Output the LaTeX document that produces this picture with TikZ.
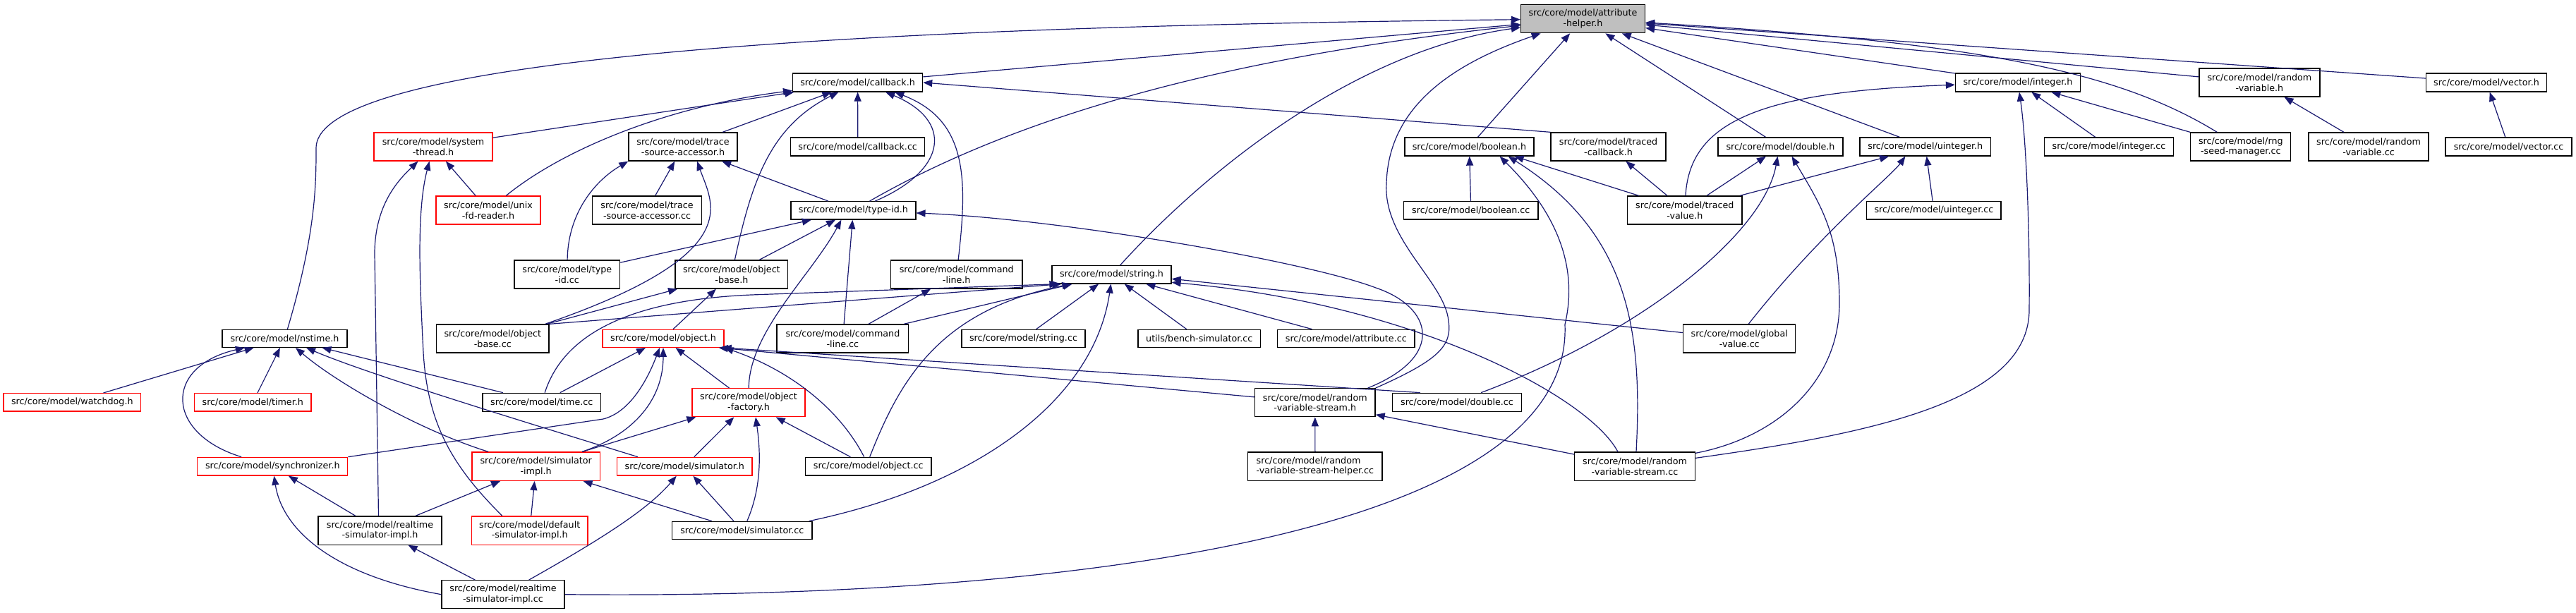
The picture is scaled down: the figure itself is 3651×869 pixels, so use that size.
\documentclass[tikz,border=0pt]{standalone}
\usepackage{fontspec}
\setmainfont{DejaVu Sans}
\usetikzlibrary{arrows.meta}
\definecolor{edgecol}{HTML}{191970}
\definecolor{redcol}{HTML}{FF0000}
\definecolor{graycol}{HTML}{BFBFBF}
\begin{document}
\begin{tikzpicture}[x=1pt,y=-1pt,
  box/.style={draw=black,line width=1.3pt,fill=white,inner sep=0pt,align=center,font=\fontsize{12.7}{14.6}\selectfont},
  redbox/.style={box,draw=redcol},
  graybox/.style={box,fill=graycol},
  edge/.style={draw=edgecol,line width=1.2pt,-{Triangle[length=13pt,width=10pt]}}]
\useasboundingbox (0,0) rectangle (3651,869);
\fill[white] (0,0) rectangle (3651,869);
% row 1
\node[graybox,minimum width=176pt,minimum height=40pt] (AH) at (2243.5,26.7) {src/core/model/attribute\\-helper.h};
% row 2
\node[box,minimum width=184pt,minimum height=26pt] (cbh) at (1215.6,117) {src/core/model/callback.h};
\node[box,minimum width=177pt,minimum height=26pt] (inth) at (2860,117) {src/core/model/integer.h};
\node[box,minimum width=171pt,minimum height=40pt] (rvh) at (3202.4,117) {src/core/model/random\\-variable.h};
\node[box,minimum width=171pt,minimum height=26pt] (vech) at (3524,117) {src/core/model/vector.h};
% row 3
\node[redbox,minimum width=168pt,minimum height=40pt] (stth) at (614,208) {src/core/model/system\\-thread.h};
\node[box,minimum width=154pt,minimum height=40pt] (TSAh) at (968,208) {src/core/model/trace\\-source-accessor.h};
\node[box,minimum width=190pt,minimum height=26pt] (cbcc) at (1215.7,208) {src/core/model/callback.cc};
\node[box,minimum width=183pt,minimum height=26pt] (boolh) at (2082.4,208) {src/core/model/boolean.h};
\node[box,minimum width=163pt,minimum height=40pt] (tch) at (2279.5,208) {src/core/model/traced\\-callback.h};
\node[box,minimum width=177pt,minimum height=26pt] (dh) at (2523.5,208) {src/core/model/double.h};
\node[box,minimum width=185.5pt,minimum height=26pt] (uinth) at (2728.8,208) {src/core/model/uinteger.h};
\node[box,minimum width=183pt,minimum height=26pt] (intcc) at (2989,208) {src/core/model/integer.cc};
\node[box,minimum width=142pt,minimum height=40pt] (rng) at (3175.8,208) {src/core/model/rng\\-seed-manager.cc};
\node[box,minimum width=170pt,minimum height=40pt] (rvcc) at (3357,208) {src/core/model/random\\-variable.cc};
\node[box,minimum width=179pt,minimum height=26pt] (veccc) at (3555.5,208) {src/core/model/vector.cc};
% row 4
\node[redbox,minimum width=148pt,minimum height=40pt] (unix) at (692,298) {src/core/model/unix\\-fd-reader.h};
\node[box,minimum width=154.5pt,minimum height=40pt] (TSAcc) at (917,298) {src/core/model/trace\\-source-accessor.cc};
\node[box,minimum width=177pt,minimum height=25.3pt] (tidh) at (1209.4,298.4) {src/core/model/type-id.h};
\node[box,minimum width=190.4pt,minimum height=25.3pt] (boolcc) at (2084.8,298.4) {src/core/model/boolean.cc};
\node[box,minimum width=162.5pt,minimum height=40pt] (tvh) at (2387.8,298) {src/core/model/traced\\-value.h};
\node[box,minimum width=190.3pt,minimum height=25.3pt] (uintcc) at (2740.9,298.4) {src/core/model/uinteger.cc};
% row 5
\node[box,minimum width=149.5pt,minimum height=40pt] (tidcc) at (803.8,389) {src/core/model/type\\-id.cc};
\node[box,minimum width=159.7pt,minimum height=40pt] (objbh) at (1036.9,389) {src/core/model/object\\-base.h};
\node[box,minimum width=186.6pt,minimum height=40pt] (clh) at (1355.7,389) {src/core/model/command\\-line.h};
\node[box,minimum width=169pt,minimum height=25.3pt] (strh) at (1575.5,389.3) {src/core/model/string.h};
% row 6
\node[box,minimum width=177pt,minimum height=25pt] (nstime) at (403.5,479.8) {src/core/model/nstime.h};
\node[box,minimum width=159.5pt,minimum height=40pt] (objbcc) at (698.3,480) {src/core/model/object\\-base.cc};
\node[redbox,minimum width=172pt,minimum height=25pt] (objh) at (940,479.8) {src/core/model/object.h};
\node[box,minimum width=186.7pt,minimum height=40pt] (clcc) at (1194.4,480) {src/core/model/command\\-line.cc};
\node[box,minimum width=175pt,minimum height=25pt] (strcc) at (1450.5,479.8) {src/core/model/string.cc};
\node[box,minimum width=173.5pt,minimum height=25pt] (bench) at (1699.8,479.8) {utils/bench-simulator.cc};
\node[box,minimum width=194.4pt,minimum height=25pt] (attrcc) at (1907.8,479.8) {src/core/model/attribute.cc};
\node[box,minimum width=159pt,minimum height=40pt] (gv) at (2465.2,480) {src/core/model/global\\-value.cc};
% row 7
\node[redbox,minimum width=194.5pt,minimum height=25.3pt] (wd) at (102.3,570.3) {src/core/model/watchdog.h};
\node[redbox,minimum width=165.5pt,minimum height=25.3pt] (timer) at (358.3,570.3) {src/core/model/timer.h};
\node[box,minimum width=167.5pt,minimum height=26pt] (timecc) at (767.8,570.3) {src/core/model/time.cc};
\node[redbox,minimum width=160pt,minimum height=40pt] (objfac) at (1061,570.7) {src/core/model/object\\-factory.h};
\node[box,minimum width=170.5pt,minimum height=40pt] (RVSh) at (1863.8,570.7) {src/core/model/random\\-variable-stream.h};
\node[box,minimum width=183pt,minimum height=26pt] (dcc) at (2065,570.3) {src/core/model/double.cc};
% row 8
\node[redbox,minimum width=213pt,minimum height=25.7pt] (synch) at (386.3,661.2) {src/core/model/synchronizer.h};
\node[redbox,minimum width=181.4pt,minimum height=40.3pt] (SIh) at (759.7,661.2) {src/core/model/simulator\\-impl.h};
\node[redbox,minimum width=191.5pt,minimum height=25.7pt] (simh) at (970.3,661.2) {src/core/model/simulator.h};
\node[box,minimum width=178.7pt,minimum height=25.7pt] (objcc) at (1230.7,661.2) {src/core/model/object.cc};
\node[box,align=left,minimum width=190.3pt,minimum height=40.3pt] (RVShelp) at (1863.9,661) {src/core/model/random\\-variable-stream-helper.cc};
\node[box,minimum width=170.5pt,minimum height=40.3pt] (RVScc) at (2317,661.2) {src/core/model/random\\-variable-stream.cc};
% row 9
\node[box,minimum width=175pt,minimum height=40.3pt] (RSIh) at (538.5,752) {src/core/model/realtime\\-simulator-impl.h};
\node[redbox,minimum width=164.6pt,minimum height=40.3pt] (DSIh) at (750.7,752) {src/core/model/default\\-simulator-impl.h};
\node[box,minimum width=198.4pt,minimum height=25.4pt] (simcc) at (1051.8,752) {src/core/model/simulator.cc};
% row 10
\node[box,minimum width=174pt,minimum height=40pt] (RSIcc) at (713,842.7) {src/core/model/realtime\\-simulator-impl.cc};

% ---- edges into attribute-helper.h
\draw[edge] (nstime) .. controls (448,330) and (448,260) .. (448,210) .. controls (448,60) and (1500,35) .. (AH);
\draw[edge] (cbh) -- (AH);
\draw[edge] (tidh) .. controls (1450,160) and (1750,80) .. (AH);
\draw[edge] (strh) .. controls (1720,230) and (1930,70) .. (AH);
\draw[edge] (RVSh.north east) .. controls (2040,510) and (2058,490) .. (2053,455) .. controls (2048,400) and (1960,340) .. (1965,260) .. controls (1968,150) and (2060,90) .. (AH);
\draw[edge] (boolh) -- (AH);
\draw[edge] (dh) -- (AH);
\draw[edge] (uinth) -- (AH);
\draw[edge] (inth) -- (AH);
\draw[edge] (rvh) -- (AH);
\draw[edge] (vech) -- (AH);
\draw[edge] (rng) .. controls (3000,100) and (2800,60) .. (AH);
% ---- callback.h
\draw[edge] (stth) -- (cbh);
\draw[edge] (unix) .. controls (800,210) and (950,150) .. (cbh);
\draw[edge] (TSAh) -- (cbh);
\draw[edge] (objbh) .. controls (1065,260) and (1090,180) .. (cbh);
\draw[edge] (cbcc) -- (cbh);
\draw[edge] (tidh) .. controls (1345,240) and (1350,170) .. ([xshift=-53pt]cbh.south east);
\draw[edge] (clh) .. controls (1372,250) and (1370,170) .. ([xshift=-40pt]cbh.south east);
\draw[edge] (tch.north west) -- (cbh.east);
% ---- system-thread.h
\draw[edge] (unix) -- (stth);
\draw[edge] ([xshift=-2pt]RSIh.north) -- (531,360) .. controls (531,290) and (565,255) .. (stth);
\draw[edge] ([xshift=44pt]DSIh.north west) .. controls (640,660) and (606,600) .. (600,500) .. controls (595,400) and (590,300) .. (stth);
% ---- nstime.h
\draw[edge] (synch) .. controls (235,615) and (230,520) .. (nstime);
\draw[edge] (wd) -- (nstime);
\draw[edge] (timer) -- (nstime);
\draw[edge] (SIh) .. controls (600,612) and (480,545) .. (nstime);
\draw[edge] ([xshift=30pt]simh.north west) .. controls (750,600) and (520,530) .. (nstime);
\draw[edge] (timecc) -- (nstime);
% ---- object.h
\draw[edge] (timecc) -- (objh);
\draw[edge] (synch.north east) -- (855,594) .. controls (890,585) and (915,545) .. (objh);
\draw[edge] ([xshift=-26pt]SIh.north east) .. controls (900,615) and (940,565) .. (objh);
\draw[edge] (objfac) -- (objh);
\draw[edge] (RVSh) -- ([xshift=-8pt]objh.south east);
\draw[edge] ([xshift=40pt]dcc.north west) -- ([xshift=-3pt]objh.south east);
\draw[edge] ([xshift=-6pt]objcc.north) .. controls (1190,580) and (1120,525) .. (objh.south east);
% ---- object-base.h
\draw[edge] (objbcc) -- (objbh);
\draw[edge] (objh) -- (objbh);
% ---- object-factory.h
\draw[edge] ([xshift=-26pt]SIh.north east) -- ([xshift=6pt]objfac.south west);
\draw[edge] (simh) -- (objfac);
\draw[edge] ([xshift=7pt]simcc.north) .. controls (1080,690) and (1078,640) .. ([xshift=10pt]objfac.south);
\draw[edge] (objcc) -- (objfac);
% ---- type-id.h
\draw[edge] (tidcc) -- (tidh);
\draw[edge] (objbh) -- (tidh);
\draw[edge] (objfac) .. controls (1062,470) and (1150,390) .. ([xshift=-17pt]tidh.south);
\draw[edge] (clcc) -- (tidh);
\draw[edge] ([xshift=-11pt]RVSh.north east) .. controls (2050,505) and (2030,435) .. (1950,408) .. controls (1850,370) and (1500,310) .. (tidh);
% ---- trace-source-accessor.h
\draw[edge] (TSAcc) -- (TSAh);
\draw[edge] (tidh) -- (TSAh);
\draw[edge] (tidcc) .. controls (805,300) and (845,255) .. (TSAh.south west);
\draw[edge] ([xshift=-6pt]objbcc.north east) .. controls (1060,360) and (1010,290) .. ([xshift=20pt]TSAh.south);
% ---- command-line.h
\draw[edge] (clcc) -- (clh);
% ---- string.h
\draw[edge] (timecc) .. controls (800,470) and (900,425) .. (1065,418) -- ([xshift=10pt]strh.south west);
\draw[edge] (objbcc.north east) -- ([xshift=14pt]strh.south west);
\draw[edge] (clcc) -- (strh);
\draw[edge] ([xshift=2pt]objcc.north) .. controls (1275,540) and (1330,440) .. ([xshift=28pt]strh.south west);
\draw[edge] ([xshift=-5pt]simcc.north east) .. controls (1380,690) and (1550,570) .. ([xshift=-1pt]strh.south);
\draw[edge] (strcc) -- (strh);
\draw[edge] (bench) -- (strh);
\draw[edge] (attrcc) -- (strh);
\draw[edge] (gv) -- ([yshift=-6pt]strh.east);
\draw[edge] ([xshift=-24pt]RVScc.north) .. controls (2250,560) and (2000,430) .. ([yshift=-11pt]strh.east);
% ---- boolean.h
\draw[edge] (boolcc) -- (boolh);
\draw[edge] (tvh) -- ([xshift=-28pt]boolh.south east);
\draw[edge] ([xshift=2pt]RVScc.north) .. controls (2328,470) and (2310,330) .. ([xshift=-37pt]boolh.south east);
\draw[edge] (RSIcc.east) .. controls (1500,850) and (2230,760) .. (2218,460) .. controls (2232,400) and (2225,320) .. ([xshift=-49pt]boolh.south east);
% ---- traced-callback.h
\draw[edge] (tvh) -- (tch);
% ---- double.h
\draw[edge] (tvh) -- (dh);
\draw[edge] ([xshift=34pt]dcc.north) .. controls (2330,470) and (2500,330) .. ([xshift=-4pt]dh.south);
\draw[edge] ([yshift=-2pt]RVScc.north east) .. controls (2520,620) and (2607,540) .. (2607,430) .. controls (2607,330) and (2580,290) .. ([xshift=16pt]dh.south);
% ---- uinteger.h
\draw[edge] (tvh) -- (uinth);
\draw[edge] (uintcc) -- (uinth);
\draw[edge] ([xshift=13pt]gv.north) .. controls (2580,330) and (2680,250) .. ([xshift=65pt]uinth.south west);
% ---- integer.h
\draw[edge] (intcc) -- (inth);
\draw[edge] (rng) -- (inth);
\draw[edge] (tvh) .. controls (2395,170) and (2500,130) .. (inth);
\draw[edge] ([yshift=-9pt]RVScc.north east) .. controls (2650,615) and (2875,570) .. (2876,440) .. controls (2877,330) and (2872,200) .. (inth);
% ---- random-variable.h, vector.h
\draw[edge] (rvcc) -- (rvh);
\draw[edge] (veccc) -- (vech);
% ---- random-variable-stream.h
\draw[edge] (RVShelp) -- (RVSh);
\draw[edge] (RVScc) -- (RVSh);
% ---- simulator-impl.h
\draw[edge] (RSIh) -- (SIh);
\draw[edge] (DSIh) -- (SIh);
\draw[edge] (simcc) -- (SIh);
% ---- simulator.h
\draw[edge] (simcc) -- (simh);
\draw[edge] (RSIcc) .. controls (860,760) and (920,720) .. (simh);
% ---- synchronizer.h
\draw[edge] (RSIh) -- (synch);
\draw[edge] (RSIcc.west) .. controls (470,815) and (400,750) .. (synch);
% ---- realtime-simulator-impl.h
\draw[edge] (RSIcc) -- (RSIh);
\end{tikzpicture}
\end{document}
